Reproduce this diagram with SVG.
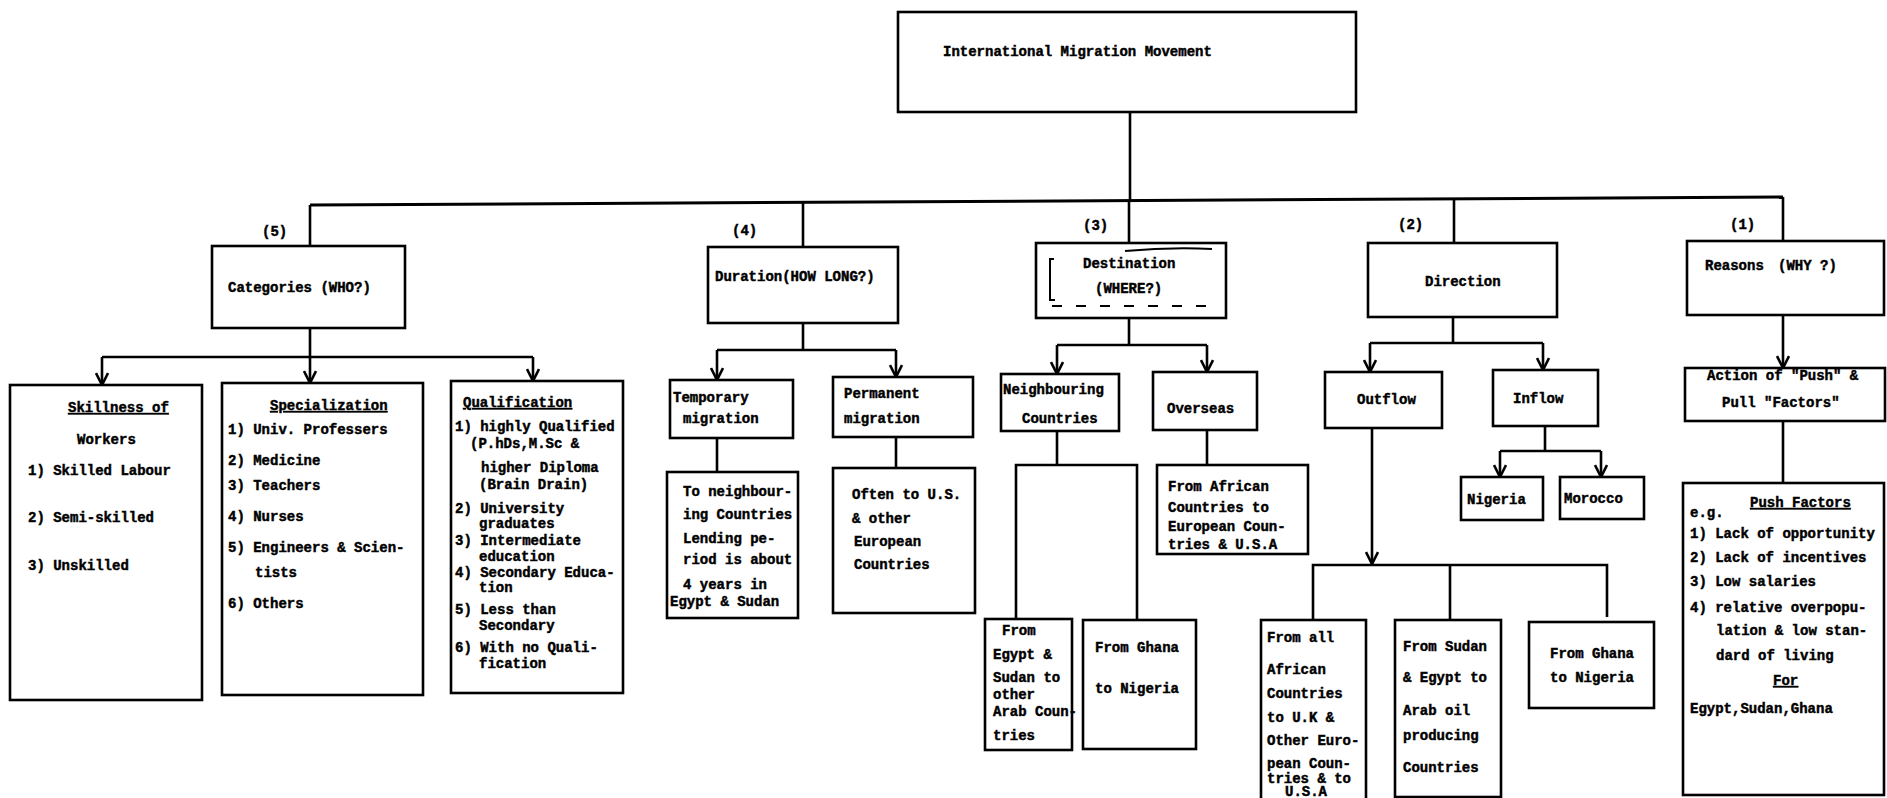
<svg xmlns="http://www.w3.org/2000/svg" width="1887" height="798" viewBox="0 0 1887 798">
<defs>
<style>
.box{fill:none;stroke:#000;stroke-width:2.6}
.ln{fill:none;stroke:#000;stroke-width:2.6}
.bus{fill:none;stroke:#000;stroke-width:3}
.t{font-family:"Liberation Mono","DejaVu Sans Mono",monospace;font-weight:bold;font-size:14px;fill:#000;stroke:#000;stroke-width:0.45}
.u{text-decoration:underline}
.deco{fill:none;stroke:#000;stroke-width:2}
</style>
<marker id="arr" viewBox="0 0 14 14" refX="13" refY="7" markerWidth="14" markerHeight="14" markerUnits="userSpaceOnUse" orient="auto">
<path d="M1,1 L13,7 L1,13" fill="none" stroke="#000" stroke-width="2.6"/>
</marker>
</defs>
<rect width="1887" height="798" fill="#fff"/>

<g id="connectors">
<path class="ln" d="M1130,112 V200"/>
<path class="bus" d="M310,205 L1783,197"/>
<path class="ln" d="M310,205 V245"/>
<path class="ln" d="M803,202 V247"/>
<path class="ln" d="M1129,200 V243"/>
<path class="ln" d="M1454,199 V243"/>
<path class="ln" d="M1783,197 V241"/>
<path class="ln" d="M310,328 V357 M102,357 H533"/>
<path class="ln" d="M102,357 V385" marker-end="url(#arr)"/>
<path class="ln" d="M310,357 V383" marker-end="url(#arr)"/>
<path class="ln" d="M533,357 V381" marker-end="url(#arr)"/>
<path class="ln" d="M803,323 V350 M717,350 H896"/>
<path class="ln" d="M717,350 V380" marker-end="url(#arr)"/>
<path class="ln" d="M896,350 V377" marker-end="url(#arr)"/>
<path class="ln" d="M717,438 V472"/>
<path class="ln" d="M896,437 V468"/>
<path class="ln" d="M1129,318 V345 M1057,345 H1207"/>
<path class="ln" d="M1057,345 V374" marker-end="url(#arr)"/>
<path class="ln" d="M1207,345 V372" marker-end="url(#arr)"/>
<path class="ln" d="M1207,430 V465"/>
<path class="ln" d="M1057,431 V465 M1016,619 V465 H1137 V620"/>
<path class="ln" d="M1453,317 V343 M1370,343 H1543"/>
<path class="ln" d="M1370,343 V372" marker-end="url(#arr)"/>
<path class="ln" d="M1543,343 V370" marker-end="url(#arr)"/>
<path class="ln" d="M1545,426 V451 M1500,451 H1601"/>
<path class="ln" d="M1500,451 V477" marker-end="url(#arr)"/>
<path class="ln" d="M1601,451 V477" marker-end="url(#arr)"/>
<path class="ln" d="M1372,428 V564" marker-end="url(#arr)"/>
<path class="ln" d="M1313,619 V565 H1607 V617 M1450,565 V620"/>
<path class="ln" d="M1783,315 V368" marker-end="url(#arr)"/>
<path class="ln" d="M1783,421 V483"/>
</g>

<g id="root">
<rect class="box" x="898" y="12" width="458" height="100"/>
<text class="t" x="943" y="56">International Migration Movement</text>
</g>

<g id="labels">
<text class="t" x="262" y="236">(5)</text>
<text class="t" x="732" y="235">(4)</text>
<text class="t" x="1083" y="230">(3)</text>
<text class="t" x="1398" y="229">(2)</text>
<text class="t" x="1730" y="229">(1)</text>
</g>

<g id="categories">
<rect class="box" x="212" y="246" width="193" height="82"/>
<text class="t" x="228" y="292">Categories (WHO?)</text>
</g>
<g id="skillness">
<rect class="box" x="10" y="385" width="192" height="315"/>
<text class="t u" x="68" y="412">Skillness of</text>
<text class="t" x="77" y="444">Workers</text>
<text class="t" x="28" y="475">1) Skilled Labour</text>
<text class="t" x="28" y="522">2) Semi-skilled</text>
<text class="t" x="28" y="570">3) Unskilled</text>
</g>
<g id="specialization">
<rect class="box" x="222" y="383" width="201" height="312"/>
<text class="t u" x="270" y="410">Specialization</text>
<text class="t" x="228" y="434">1) Univ. Professers</text>
<text class="t" x="228" y="465">2) Medicine</text>
<text class="t" x="228" y="490">3) Teachers</text>
<text class="t" x="228" y="521">4) Nurses</text>
<text class="t" x="228" y="552">5) Engineers &amp; Scien-</text>
<text class="t" x="255" y="577">tists</text>
<text class="t" x="228" y="608">6) Others</text>
</g>
<g id="qualification">
<rect class="box" x="451" y="381" width="172" height="312"/>
<text class="t u" x="463" y="407">Qualification</text>
<text class="t" x="455" y="431">1) highly Qualified</text>
<text class="t" x="470" y="448">(P.hDs,M.Sc &amp;</text>
<text class="t" x="481" y="472">higher Diploma</text>
<text class="t" x="479" y="489">(Brain Drain)</text>
<text class="t" x="455" y="513">2) University</text>
<text class="t" x="479" y="528">graduates</text>
<text class="t" x="455" y="545">3) Intermediate</text>
<text class="t" x="479" y="561">education</text>
<text class="t" x="455" y="577">4) Secondary Educa-</text>
<text class="t" x="479" y="592">tion</text>
<text class="t" x="455" y="614">5) Less than</text>
<text class="t" x="479" y="630">Secondary</text>
<text class="t" x="455" y="652">6) With no Quali-</text>
<text class="t" x="479" y="668">fication</text>
</g>

<g id="duration">
<rect class="box" x="708" y="247" width="190" height="76"/>
<text class="t" x="715" y="281">Duration(HOW LONG?)</text>
</g>
<g id="temporary">
<rect class="box" x="670" y="380" width="123" height="58"/>
<text class="t" x="673" y="402">Temporary</text>
<text class="t" x="683" y="423">migration</text>
</g>
<g id="permanent">
<rect class="box" x="833" y="377" width="140" height="60"/>
<text class="t" x="844" y="398">Permanent</text>
<text class="t" x="844" y="423">migration</text>
</g>
<g id="temporary-detail">
<rect class="box" x="667" y="472" width="131" height="146"/>
<text class="t" x="683" y="496">To neighbour-</text>
<text class="t" x="683" y="519">ing Countries</text>
<text class="t" x="683" y="543">Lending pe-</text>
<text class="t" x="683" y="564">riod is about</text>
<text class="t" x="683" y="589">4 years in</text>
<text class="t" x="670" y="606">Egypt &amp; Sudan</text>
</g>
<g id="permanent-detail">
<rect class="box" x="833" y="468" width="142" height="145"/>
<text class="t" x="852" y="499">Often to U.S.</text>
<text class="t" x="852" y="523">&amp; other</text>
<text class="t" x="854" y="546">European</text>
<text class="t" x="854" y="569">Countries</text>
</g>

<g id="destination">
<rect class="box" x="1036" y="243" width="190" height="75"/>
<text class="t" x="1083" y="268">Destination</text>
<text class="t" x="1095" y="293">(WHERE?)</text>
<path class="deco" d="M1125,251 Q1170,247 1212,249"/>
<path class="deco" d="M1054,259 H1050 V300 H1055"/>
<path class="deco" d="M1052,306 H1218" stroke-dasharray="10 14"/>
</g>
<g id="neighbouring">
<rect class="box" x="1001" y="374" width="118" height="57"/>
<text class="t" x="1003" y="394">Neighbouring</text>
<text class="t" x="1022" y="423">Countries</text>
</g>
<g id="overseas">
<rect class="box" x="1153" y="372" width="104" height="58"/>
<text class="t" x="1167" y="413">Overseas</text>
</g>
<g id="overseas-detail">
<rect class="box" x="1157" y="465" width="151" height="89"/>
<text class="t" x="1168" y="491">From African</text>
<text class="t" x="1168" y="512">Countries to</text>
<text class="t" x="1168" y="531">European Coun-</text>
<text class="t" x="1168" y="549">tries &amp; U.S.A</text>
</g>
<g id="from-egypt">
<rect class="box" x="985" y="619" width="87" height="131"/>
<text class="t" x="1002" y="635">From</text>
<text class="t" x="993" y="659">Egypt &amp;</text>
<text class="t" x="993" y="682">Sudan to</text>
<text class="t" x="993" y="699">other</text>
<text class="t" x="993" y="716">Arab Coun-</text>
<text class="t" x="993" y="740">tries</text>
</g>
<g id="from-ghana-nb">
<rect class="box" x="1083" y="620" width="113" height="129"/>
<text class="t" x="1095" y="652">From Ghana</text>
<text class="t" x="1095" y="693">to Nigeria</text>
</g>

<g id="direction">
<rect class="box" x="1368" y="243" width="189" height="74"/>
<text class="t" x="1425" y="286">Direction</text>
</g>
<g id="outflow">
<rect class="box" x="1325" y="372" width="117" height="56"/>
<text class="t" x="1357" y="404">Outflow</text>
</g>
<g id="inflow">
<rect class="box" x="1493" y="370" width="105" height="56"/>
<text class="t" x="1513" y="403">Inflow</text>
</g>
<g id="nigeria">
<rect class="box" x="1461" y="477" width="82" height="43"/>
<text class="t" x="1467" y="504">Nigeria</text>
</g>
<g id="morocco">
<rect class="box" x="1560" y="477" width="84" height="42"/>
<text class="t" x="1564" y="503">Morocco</text>
</g>
<g id="from-all">
<rect class="box" x="1261" y="620" width="105" height="182"/>
<text class="t" x="1267" y="642">From all</text>
<text class="t" x="1267" y="674">African</text>
<text class="t" x="1267" y="698">Countries</text>
<text class="t" x="1267" y="722">to U.K &amp;</text>
<text class="t" x="1267" y="745">Other Euro-</text>
<text class="t" x="1267" y="768">pean Coun-</text>
<text class="t" x="1267" y="783">tries &amp; to</text>
<text class="t" x="1285" y="796">U.S.A</text>
</g>
<g id="from-sudan">
<rect class="box" x="1395" y="620" width="106" height="177"/>
<text class="t" x="1403" y="651">From Sudan</text>
<text class="t" x="1403" y="682">&amp; Egypt to</text>
<text class="t" x="1403" y="715">Arab oil</text>
<text class="t" x="1403" y="740">producing</text>
<text class="t" x="1403" y="772">Countries</text>
</g>
<g id="from-ghana-out">
<rect class="box" x="1529" y="622" width="125" height="86"/>
<text class="t" x="1550" y="658">From Ghana</text>
<text class="t" x="1550" y="682">to Nigeria</text>
</g>

<g id="reasons">
<rect class="box" x="1687" y="241" width="197" height="74"/>
<text class="t" x="1705" y="270">Reasons<tspan x="1778">(WHY ?)</tspan></text>
</g>
<g id="action">
<rect class="box" x="1685" y="368" width="200" height="53"/>
<text class="t" x="1707" y="380">Action of "Push" &amp;</text>
<text class="t" x="1722" y="407">Pull "Factors"</text>
</g>
<g id="push-factors">
<rect class="box" x="1683" y="483" width="201" height="312"/>
<text class="t u" x="1750" y="507">Push Factors</text>
<text class="t" x="1690" y="517">e.g.</text>
<text class="t" x="1690" y="538">1) Lack of opportunity</text>
<text class="t" x="1690" y="562">2) Lack of incentives</text>
<text class="t" x="1690" y="586">3) Low salaries</text>
<text class="t" x="1690" y="612">4) relative overpopu-</text>
<text class="t" x="1716" y="635">lation &amp; low stan-</text>
<text class="t" x="1716" y="660">dard of living</text>
<text class="t u" x="1773" y="685">For</text>
<text class="t" x="1690" y="713">Egypt,Sudan,Ghana</text>
</g>
</svg>
